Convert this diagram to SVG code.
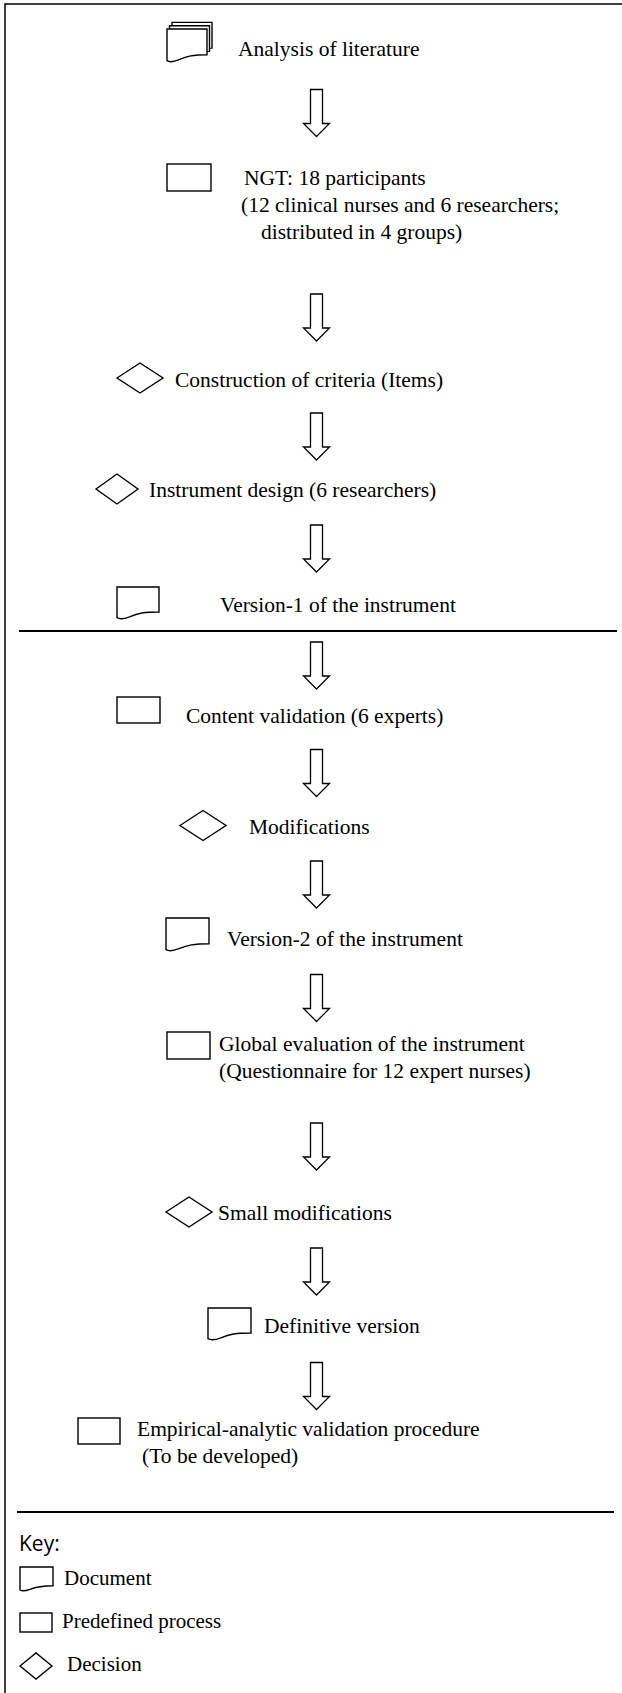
<svg xmlns="http://www.w3.org/2000/svg" width="622" height="1693" viewBox="0 0 622 1693">
<style>
.bg{fill:#ffffff}
.frame{fill:none;stroke:#000;stroke-width:1.5}
.divider{fill:none;stroke:#000;stroke-width:2.2}
.shape{fill:#ffffff;stroke:#000;stroke-width:1.4;stroke-linejoin:miter}
.arrow{fill:#ffffff;stroke:#000;stroke-width:1.3;stroke-linejoin:miter}
.t{font-family:"Liberation Serif","Times New Roman",serif;font-size:21.5px;fill:#000}
.k{font-family:"Liberation Serif","Times New Roman",serif;font-size:21px;fill:#000}
.key{font-family:"Open Sans","Liberation Sans",sans-serif;font-size:21px;fill:#000}
</style>
<defs>
<path id="arr" d="M-6,0 H6 V34 H13 L0,47 L-13,34 H-6 Z"/>
</defs>
<rect class="bg" x="0" y="0" width="622" height="1693"/>
<g id="frame">
<path class="frame" d="M5,1693 V4 H622"/>
<line class="divider" x1="19" y1="631" x2="617" y2="631"/>
<line class="divider" x1="17" y1="1512" x2="614" y2="1512"/>
</g>
<g id="connectors">
<use href="#arr" class="arrow" x="316.5" y="89.5"/>
<use href="#arr" class="arrow" x="316.5" y="294"/>
<use href="#arr" class="arrow" x="316.5" y="413"/>
<use href="#arr" class="arrow" x="316.5" y="525"/>
<use href="#arr" class="arrow" x="316.5" y="642"/>
<use href="#arr" class="arrow" x="316.5" y="749.5"/>
<use href="#arr" class="arrow" x="316.5" y="861"/>
<use href="#arr" class="arrow" x="316.5" y="974.5"/>
<use href="#arr" class="arrow" x="316.5" y="1123"/>
<use href="#arr" class="arrow" x="316.5" y="1248"/>
<use href="#arr" class="arrow" x="316.5" y="1362.5"/>
</g>
<g id="n1-analysis">
<path class="shape" d="M172,22.4 H212 V48.1 C198,48.1 192,49.5 184,53.1 C178,55.7 174,55.4 172,54.1 Z"/>
<path class="shape" d="M169.5,25.7 H209.5 V51.4 C195.5,51.4 189.5,52.8 181.5,56.4 C175.5,59 171.5,58.7 169.5,57.4 Z"/>
<path class="shape" d="M167,29 H207 V54.7 C193,54.7 187,56.1 179,59.7 C173,62.3 169,62 167,60.7 Z"/>
<text class="t" x="238" y="56">Analysis of literature</text>
</g>
<g id="n2-ngt">
<rect class="shape" x="167" y="164" width="44" height="27"/>
<text class="t" x="244" y="185">NGT: 18 participants</text>
<text class="t" x="241" y="212">(12 clinical nurses and 6 researchers;</text>
<text class="t" x="261" y="239">distributed in 4 groups)</text>
</g>
<g id="n3-construction">
<polygon class="shape" points="117,378 140,363 163,378 140,393"/>
<text class="t" x="175" y="387">Construction of criteria (Items)</text>
</g>
<g id="n4-design">
<polygon class="shape" points="96,489 117,474 138,489 117,504"/>
<text class="t" x="149" y="497">Instrument design (6 researchers)</text>
</g>
<g id="n5-version1">
<path class="shape" d="M117,587 H159 V612 C144.3,612 138,613.2 129.6,616.8 C123.3,619.3 119.1,619 117,617.7 Z"/>
<text class="t" x="220" y="612">Version-1 of the instrument</text>
</g>
<g id="n6-content">
<rect class="shape" x="117" y="697" width="43" height="26"/>
<text class="t" x="186" y="723">Content validation (6 experts)</text>
</g>
<g id="n7-modifications">
<polygon class="shape" points="180,825.5 203,810.5 226,825.5 203,840.5"/>
<text class="t" x="249" y="834">Modifications</text>
</g>
<g id="n8-version2">
<path class="shape" d="M166,918 H209 V943.7 C194,943.7 187.5,945.1 178.9,948.7 C172.5,951.3 168.2,951 166,949.7 Z"/>
<text class="t" x="227" y="946">Version-2 of the instrument</text>
</g>
<g id="n9-global">
<rect class="shape" x="167" y="1032" width="43" height="27"/>
<text class="t" x="219" y="1051">Global evaluation of the instrument</text>
<text class="t" x="219" y="1078">(Questionnaire for 12 expert nurses)</text>
</g>
<g id="n10-small">
<polygon class="shape" points="166,1212 189,1197 212,1212 189,1227"/>
<text class="t" x="218" y="1220">Small modifications</text>
</g>
<g id="n11-definitive">
<path class="shape" d="M208,1308 H251 V1333 C236,1333 229.5,1334.2 220.9,1337.8 C214.5,1340.3 210.2,1340 208,1338.7 Z"/>
<text class="t" x="264" y="1333">Definitive version</text>
</g>
<g id="n12-empirical">
<rect class="shape" x="78" y="1418" width="42" height="26"/>
<text class="t" x="137" y="1436">Empirical-analytic validation procedure</text>
<text class="t" x="142" y="1463">(To be developed)</text>
</g>
<g id="legend">
<text class="key" x="19" y="1551">Key:</text>
<path class="shape" d="M20,1567 H53 V1585.7 C41.5,1585.7 36.5,1586.7 29.9,1589.3 C25,1591.2 21.7,1591 20,1590 Z"/>
<text class="k" x="64" y="1585">Document</text>
<rect class="shape" x="20" y="1613" width="32" height="19"/>
<text class="k" x="62" y="1628">Predefined process</text>
<polygon class="shape" points="20,1666 36,1653 52,1666 36,1679"/>
<text class="k" x="67" y="1671">Decision</text>
</g>
</svg>
